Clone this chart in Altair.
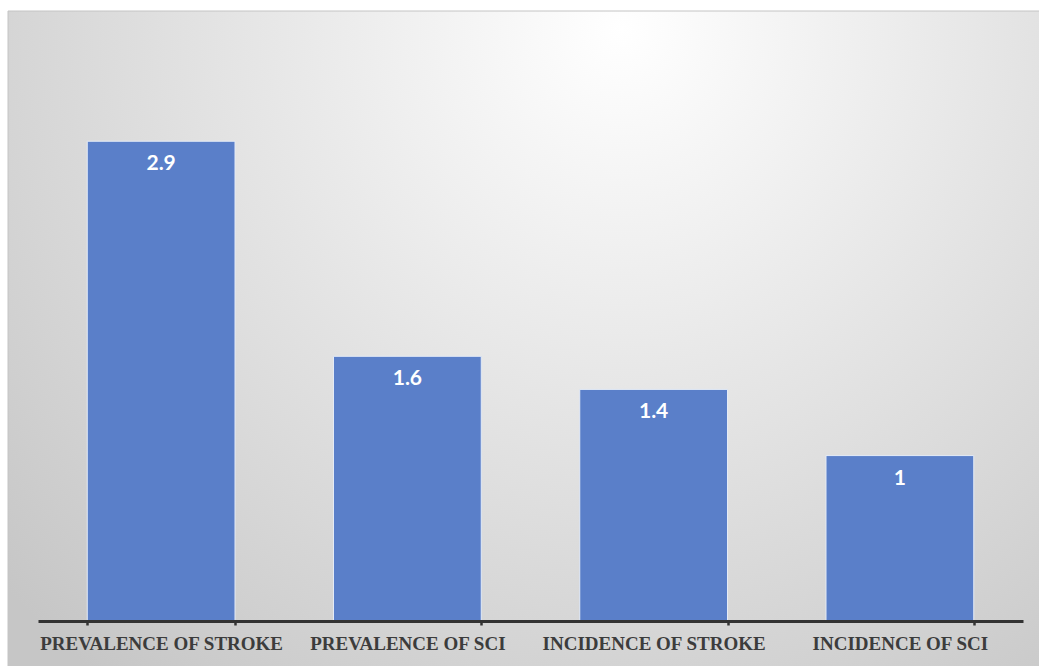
import altair as alt
import pandas as pd

# Chart data
categories = ["PREVALENCE OF STROKE", "PREVALENCE OF SCI", "INCIDENCE OF STROKE", "INCIDENCE OF SCI"]
values = [2.9, 1.6, 1.4, 1.0]

df = pd.DataFrame({"category": categories, "value": values})
bg_df = pd.DataFrame({"k": [0]})

W, H = 985, 579

x_enc = alt.X(
    "category:N",
    sort=categories,
    scale=alt.Scale(paddingInner=0.4, paddingOuter=0.2),
    axis=alt.Axis(
        title=None,
        labelAngle=0,
        labelFont="Liberation Serif",
        labelFontWeight="bold",
        labelFontSize=19,
        labelColor="#3c3c3c",
        labelPadding=9,
        labelOverlap=False,
        labelLimit=400,
        tickBand="extent",
        ticks=True,
        tickSize=4,
        tickWidth=2.5,
        tickColor="#333333",
        domainColor="#333333",
        domainWidth=3,
        zindex=1,
    ),
)
y_enc = alt.Y("value:Q", scale=alt.Scale(domain=[0, 3.5]), axis=None)

# Radial-gradient panel behind the plot
background = alt.Chart(bg_df).mark_rect(
    fill=alt.Gradient(
        gradient="radial",
        stops=[
            alt.GradientStop(color="#ffffff", offset=0),
            alt.GradientStop(color="#eeeeee", offset=0.3),
            alt.GradientStop(color="#c6c6c6", offset=1),
        ],
        x1=0.59, y1=0.2, r1=0,
        x2=0.59, y2=0.2, r2=0.8,
    ),
    stroke="#c4c4c4",
    strokeWidth=1,
).encode(
    x=alt.value(-30),
    x2=alt.value(1010),
    y=alt.value(-31),
    y2=alt.value(630),
)

bars = alt.Chart(df).mark_bar(
    color="#5a7fc9",
    stroke="#e4ebf7",
    strokeWidth=1,
).encode(x=x_enc, y=y_enc)

labels = alt.Chart(df).mark_text(
    font="Lato",
    fontWeight="bold",
    fontSize=21,
    color="white",
    baseline="middle",
    dy=23,
).encode(
    x=alt.X("category:N", sort=categories),
    y=y_enc,
    text=alt.Text("value:Q"),
)

chart = (
    alt.layer(background, bars, labels)
    .properties(
        width=W,
        height=H,
        autosize=alt.AutoSizeParams(type="none"),
        padding={"left": 38, "top": 42, "right": 16, "bottom": 45},
        background="white",
    )
    .configure_view(stroke=None)
)

chart.save("out.html", embed_options={"renderer": "svg", "actions": False})
